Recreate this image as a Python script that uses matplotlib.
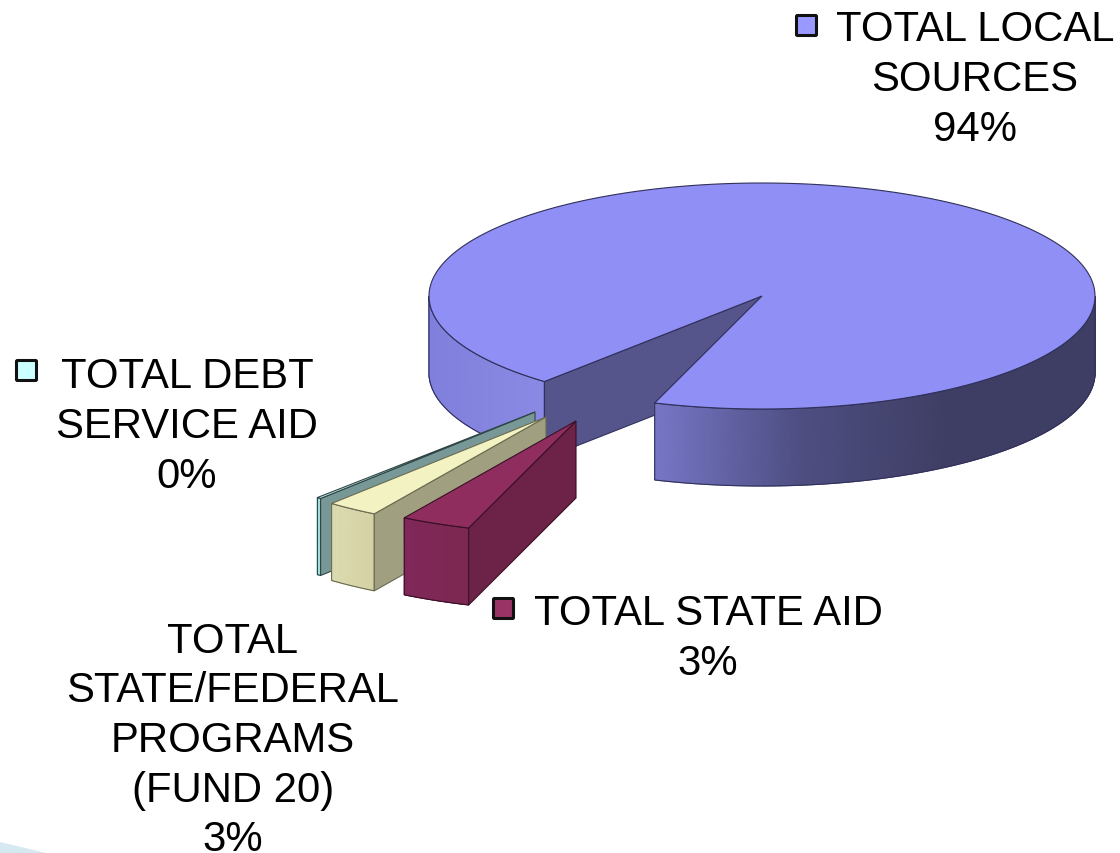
import matplotlib
matplotlib.use('Agg')
import matplotlib.pyplot as plt
import numpy as np
from matplotlib.colors import LinearSegmentedColormap
from matplotlib.patches import Polygon, FancyBboxPatch

plt.rcParams['font.family'] = ['Liberation Sans', 'DejaVu Sans']

# slice order runs clockwise from the front of the pie
names = ['TOTAL STATE AID', 'TOTAL\nSTATE/FEDERAL\nPROGRAMS\n(FUND 20)',
         'TOTAL DEBT\nSERVICE AID', 'TOTAL LOCAL\nSOURCES']
shares = [3.4, 2.51, 0.2, 93.89]

top_colors = ['#8f2d5f', '#f2f2c2', '#c4eeee', '#8f8ff5']
side_colors = ['#6d2247', '#a0a080', '#789898', '#55558c']
edge_colors = ['#3a1026', '#6a6a50', '#2f4545', '#30305a']
wall_ramps = [['#80285a', '#7c2850'], ['#dcdab0', '#d4d2a4'], ['#a8e2e2', '#9cd8d8'],
              ['#8080dc', '#8a8ae4']]
front_ramp = ['#7676c6', '#4e4e82', '#3e3e64', '#3e3e64']
key_colors = ['#993366', None, '#ccffff', '#9999ff']

# layout in pixels, y pointing down
CX, CY = 762, 297
RX, RY = 333, 113
DEPTH = 77
START = 108.8
offsets = [(-186, 125), (-216, 121), (-227, 116), (0, 0)]
label_pos = [(708, 639), (233, 741), (187, 427), (975, 80)]
key_pos = [(492.5, 598.5), None, (15.5, 360.5), (795.5, 15.5)]

spans = np.array(shares) / 100 * 360
starts = START + np.concatenate([[0], np.cumsum(spans)[:-1]])


def rim(a0, a1, cx, cy, n=120):
    t = np.radians(np.linspace(a0, a1, n))
    return cx + RX * np.cos(t), cy + RY * np.sin(t)


def draw_wall(ax, a0, a1, cx, cy, ramp, edge, z):
    x, y = rim(a0, a1, cx, cy)
    X = np.vstack([x, x])
    Y = np.vstack([y, y + DEPTH])
    frac = (x - x.min()) / max(x.max() - x.min(), 1)
    C = np.vstack([frac, frac])
    cmap = LinearSegmentedColormap.from_list('wall', ramp)
    ax.pcolormesh(X, Y, C, cmap=cmap, shading='gouraud', zorder=z, vmin=0, vmax=1)
    outline = np.vstack([np.column_stack([x, y]), np.column_stack([x, y + DEPTH])[::-1]])
    ax.add_patch(Polygon(outline, closed=True, fill=False, ec=edge, lw=0.8, zorder=z + 0.1))


def draw_side(ax, a, cx, cy, color, edge, z):
    x, y = rim(a, a, cx, cy, n=1)
    pts = [(cx, cy), (x[0], y[0]), (x[0], y[0] + DEPTH), (cx, cy + DEPTH)]
    ax.add_patch(Polygon(pts, closed=True, fc=color, ec=edge, lw=0.8, zorder=z))


def draw_top(ax, a0, a1, cx, cy, color, edge, z):
    x, y = rim(a0, a1, cx, cy, n=300)
    pts = np.vstack([[cx, cy], np.column_stack([x, y])])
    ax.add_patch(Polygon(pts, closed=True, fc=color, ec=edge, lw=0.8, zorder=z))


fig = plt.figure(figsize=(11.2, 8.54), dpi=100)
ax = fig.add_axes([0, 0, 1, 1])
ax.set_xlim(0, 1120)
ax.set_ylim(854, 0)
ax.axis('off')

# corner of the slide background
ax.add_patch(Polygon([(0, 843), (46, 854), (0, 854)], closed=True, fc='#d6e8f0', ec='none', zorder=0))

# main slice, back to front
a0 = starts[3]
a1 = a0 + spans[3]
draw_wall(ax, 180, a0, CX, CY, wall_ramps[3], edge_colors[3], 1)
draw_side(ax, a0, CX, CY, side_colors[3], edge_colors[3], 2)
draw_wall(ax, a1 - 360, 0, CX, CY, front_ramp, edge_colors[3], 3)
draw_top(ax, a0, a1, CX, CY, top_colors[3], edge_colors[3], 4)

# pulled out slices, the smallest one at the back
z = 5
for i in [2, 1, 0]:
    cx = CX + offsets[i][0]
    cy = CY + offsets[i][1]
    a0 = starts[i]
    a1 = a0 + spans[i]
    draw_wall(ax, a0, a1, cx, cy, wall_ramps[i], edge_colors[i], z)
    draw_side(ax, a0, cx, cy, side_colors[i], edge_colors[i], z + 1)
    draw_top(ax, a0, a1, cx, cy, top_colors[i], edge_colors[i], z + 2)
    z += 3

for i, name in enumerate(names):
    x, y = label_pos[i]
    ax.text(x, y, f'{name}\n{shares[i]:.0f}%', ha='center', va='center', ma='center',
            fontsize=30.2, color='black', linespacing=1.31, zorder=30)
    if key_colors[i] is not None:
        kx, ky = key_pos[i]
        ax.add_patch(FancyBboxPatch((kx + 1, ky + 1), 20, 20, boxstyle='round,pad=0,rounding_size=1',
                                    fc=key_colors[i], ec='#111111', lw=2.2, zorder=30))

fig.savefig('out.png', dpi=100)
